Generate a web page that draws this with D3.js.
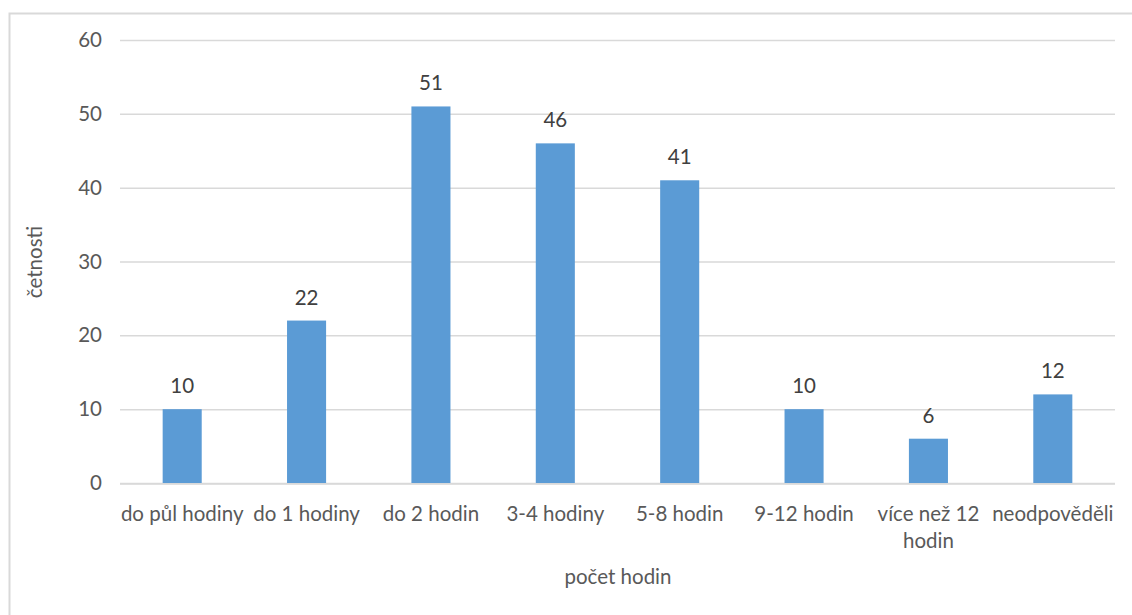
<!DOCTYPE html>
<html>
<head>
<meta charset="utf-8">
<script src="https://cdn.jsdelivr.net/npm/d3@7"></script>
<style>
  html, body { margin: 0; padding: 0; background: #fff; }
  svg { display: block; font-family: Lato, "Liberation Sans", sans-serif; }
</style>
</head>
<body>
<svg id="chart" width="1132" height="615"></svg>
<script>
// Categories (label lines) and counts
const categories = ["do půl hodiny", "do 1 hodiny", "do 2 hodin", "3-4 hodiny", "5-8 hodin", "9-12 hodin", "více než 12 hodin", "neodpověděli"];
const categoryLines = [["do půl hodiny"], ["do 1 hodiny"], ["do 2 hodin"], ["3-4 hodiny"], ["5-8 hodin"], ["9-12 hodin"], ["více než 12", "hodin"], ["neodpověděli"]];
const counts = [10, 22, 51, 46, 41, 10, 6, 12];
const yTicks = [0, 10, 20, 30, 40, 50, 60];
const yTitle = "četnosti";
const xTitle = "počet hodin";

const svg = d3.select("#chart");
const W = 1132, H = 615;
const margin = { left: 120, right: 17, top: 40, bottom: 132 };
const FS = 20.5;

// outer frame
svg.append("rect")
  .attr("x", 9.5).attr("y", 13.5)
  .attr("width", W + 20).attr("height", H + 20)
  .attr("fill", "#fff").attr("stroke", "#d9d9d9").attr("stroke-width", 2);

const x = d3.scaleBand()
  .domain(categories)
  .range([margin.left, W - margin.right])
  .paddingInner(0.686).paddingOuter(0.343);

const y = d3.scaleLinear()
  .domain([0, 60])
  .range([H - margin.bottom, margin.top]);

// gridlines + y tick labels
const yAxis = d3.axisLeft(y).tickValues(yTicks)
  .tickSize(-(W - margin.right - margin.left)).tickPadding(18);
const gy = svg.append("g")
  .attr("transform", `translate(${margin.left},0)`)
  .call(yAxis);
gy.select(".domain").remove();
gy.selectAll(".tick line").attr("stroke", "#d9d9d9").attr("stroke-width", 1.5);
gy.selectAll(".tick text")
  .attr("fill", "#595959").attr("font-size", FS)
  .attr("font-family", "Lato, 'Liberation Sans', sans-serif");

// bars
svg.append("g").selectAll("rect")
  .data(categories)
  .join("rect")
  .attr("x", d => x(d))
  .attr("width", x.bandwidth())
  .attr("y", (d, i) => y(counts[i]))
  .attr("height", (d, i) => y(0) - y(counts[i]))
  .attr("fill", "#5b9bd5");

// baseline redrawn over bars
svg.append("line")
  .attr("x1", margin.left).attr("x2", W - margin.right)
  .attr("y1", y(0) + 1).attr("y2", y(0) + 1)
  .attr("stroke", "#d9d9d9").attr("stroke-width", 1.5);

// value labels
svg.append("g").selectAll("text")
  .data(categories)
  .join("text")
  .attr("x", d => x(d) + x.bandwidth() / 2)
  .attr("y", (d, i) => y(counts[i]) - 16)
  .attr("text-anchor", "middle")
  .attr("fill", "#404040")
  .attr("font-size", FS)
  .text((d, i) => counts[i]);

// category labels
const cat = svg.append("g").selectAll("text")
  .data(categories)
  .join("text")
  .attr("x", d => x(d) + x.bandwidth() / 2)
  .attr("y", 521)
  .attr("text-anchor", "middle")
  .attr("fill", "#595959")
  .attr("font-size", FS);
cat.each(function(d, i) {
  const t = d3.select(this);
  categoryLines[i].forEach((line, j) => {
    t.append("tspan")
      .attr("x", x(d) + x.bandwidth() / 2)
      .attr("dy", j === 0 ? 0 : 27)
      .text(line);
  });
});

// axis titles
svg.append("text")
  .attr("transform", `translate(42,262) rotate(-90)`)
  .attr("text-anchor", "middle")
  .attr("fill", "#595959").attr("font-size", FS)
  .text(yTitle);

svg.append("text")
  .attr("x", 618).attr("y", 584)
  .attr("text-anchor", "middle")
  .attr("fill", "#595959").attr("font-size", FS)
  .text(xTitle);
</script>
</body>
</html>
